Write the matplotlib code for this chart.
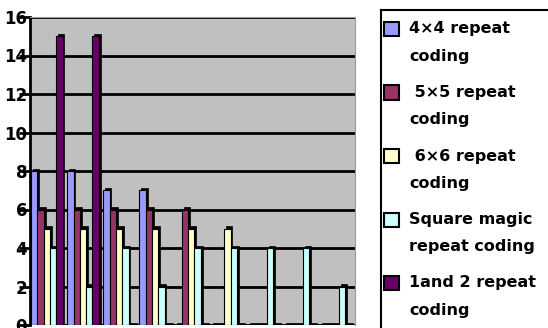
import matplotlib
matplotlib.use("Agg")
import matplotlib.pyplot as plt
import numpy as np
from matplotlib.patches import Rectangle
from matplotlib.lines import Line2D

groups = ["1", "2", "3", "4", "5", "6", "7", "8", "9"]
series_names = ["4×4 repeat\ncoding", " 5×5 repeat\ncoding", " 6×6 repeat\ncoding",
                "Square magic\nrepeat coding", "1and 2 repeat\ncoding"]
s4x4 = [8, 8, 7, 7, 0, 0, 0, 0, 0]
s5x5 = [6, 6, 6, 6, 6, 0, 0, 0, 0]
s6x6 = [5, 5, 5, 5, 5, 5, 0, 0, 0]
s_magic = [4, 2, 4, 2, 4, 4, 4, 4, 2]
s_1and2 = [15, 15, 0, 0, 0, 0, 0, 0, 0]
series = [s4x4, s5x5, s6x6, s_magic, s_1and2]
colors = ["#9999FF", "#993366", "#FFFFCC", "#CCFFFF", "#660066"]

W, H = 548, 328
fig = plt.figure(figsize=(W/100, H/100), dpi=100)
ax = fig.add_axes([30/W, 3/H, 325/W, 308/H])
ax.set_facecolor("#C0C0C0")

x = np.arange(len(groups))
w = 0.175
off = 0.03
for j, (vals, c) in enumerate(zip(series, colors)):
    pos = x + off + j * w
    vals = np.array(vals, dtype=float)
    ax.bar(pos + 0.05, vals + 0.12, width=w, align="edge", color="black",
           edgecolor="black", linewidth=0.5, zorder=2)
    ax.bar(pos, vals, width=w, align="edge", color=c, edgecolor="black",
           linewidth=0.8, zorder=3)

ax.set_xlim(0, len(groups))
ax.set_ylim(0, 16)
ax.set_yticks(range(0, 17, 2))
ax.set_xticks([])
ax.yaxis.grid(True, color="black", linewidth=2)
ax.set_axisbelow(True)
for lbl in ax.get_yticklabels():
    lbl.set_fontweight("bold")
ax.tick_params(axis="y", labelsize=12, length=8, width=2, pad=-6, color="black")
ax.spines["left"].set_color("black")
ax.spines["left"].set_linewidth(2)
ax.spines["bottom"].set_visible(False)
ax.spines["top"].set_color("#999999")
ax.spines["right"].set_color("#999999")

# manual legend in figure pixels
def fx(px):
    return px / W

def fy(py):
    return 1 - py / H

for i, (name, c) in enumerate(zip(series_names, colors)):
    y1 = 29 + i * 63.5
    fig.add_artist(Rectangle((fx(384), fy(y1 + 7)), 15/W, 14/H, transform=fig.transFigure,
                             facecolor=c, edgecolor="black", linewidth=1.5))
    for k, line in enumerate(name.split("\n")):
        fig.text(fx(409), fy(y1 + k * 27), line, ha="left", va="center",
                 fontsize=11.5, fontweight="bold")

fig.add_artist(Line2D([fx(381), 1], [fy(10), fy(10)], transform=fig.transFigure,
                      color="black", linewidth=1.5))
fig.add_artist(Line2D([fx(381), fx(381)], [0, fy(10)], transform=fig.transFigure,
                      color="black", linewidth=1.5))

fig.savefig("out.png", dpi=100)
